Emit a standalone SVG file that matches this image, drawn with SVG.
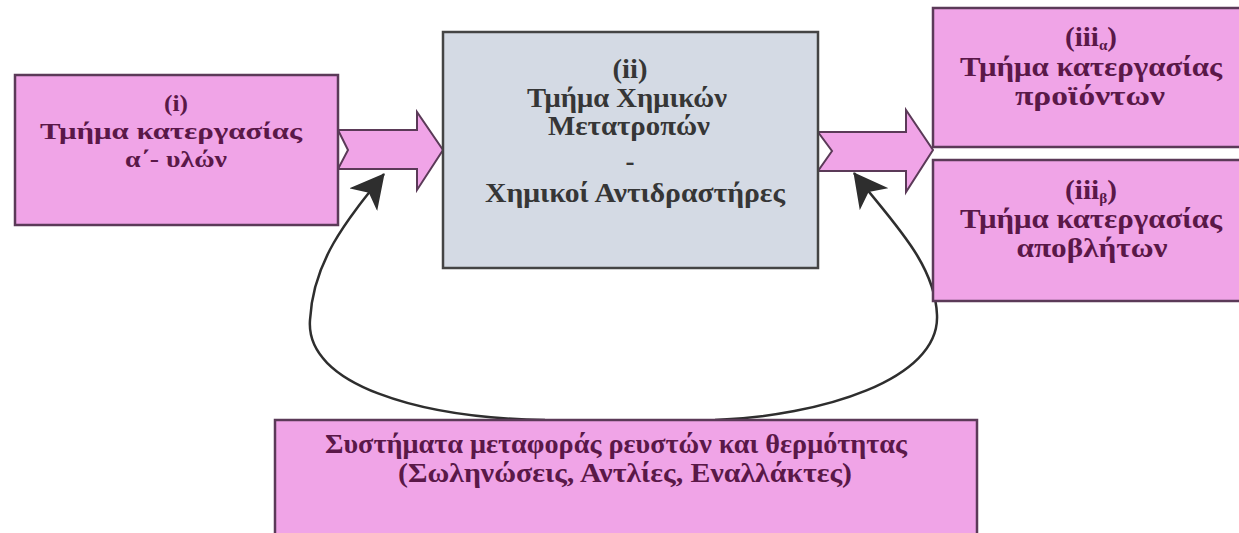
<svg xmlns="http://www.w3.org/2000/svg" width="1239" height="533" viewBox="0 0 1239 533">
<defs>
<style>
.pink{fill:#F0A4E7;stroke:#5B3A58;stroke-width:2.5}
.grey{fill:#D4DAE4;stroke:#444;stroke-width:2.5}
.arr{fill:#F0A4E7;stroke:#5B3A58;stroke-width:2}
.t{font-family:"Liberation Serif","DejaVu Serif",serif;font-weight:bold;font-size:27px;text-anchor:middle;fill:#5A1848}
.s{font-size:24px}
.tg{font-family:"Liberation Serif","DejaVu Serif",serif;font-weight:bold;font-size:27px;text-anchor:middle;fill:#363636}
.sub{font-size:14px}
.curve{fill:none;stroke:#2E2E2E;stroke-width:2.5}
</style>
<marker id="head" markerUnits="userSpaceOnUse" markerWidth="34" markerHeight="36" viewBox="0 0 34 36" refX="33" refY="18" orient="auto">
<path d="M0,0 L34,18 L0,36 L9,18 z" fill="#2E2E2E"/>
</marker>
</defs>
<rect width="1239" height="533" fill="#FFFFFF"/>
<g id="connectors">
<polygon class="arr" points="338,130 417,130 417,112 443,150 417,190 417,169 338,169 348,150"/>
<polygon class="arr" points="818,132 906,132 906,110 933,150 906,192 906,171 818,171 832,151"/>
<path class="curve" d="M545,420 C420,418 305,385 310,320 C313,262 345,222 384,174" marker-end="url(#head)"/>
<path class="curve" d="M715,420 C820,416 940,380 937,315 C935,262 890,220 854,173" marker-end="url(#head)"/>
</g>
<g id="node-i">
<rect class="pink" x="15" y="75" width="323" height="150"/>
<text class="t s" x="176" y="111" textLength="24" lengthAdjust="spacingAndGlyphs">(i)</text>
<text class="t s" x="171" y="139" textLength="262" lengthAdjust="spacingAndGlyphs">Τμήμα κατεργασίας</text>
<text class="t s" x="176" y="167" textLength="102" lengthAdjust="spacingAndGlyphs">α΄- υλών</text>
</g>
<g id="node-ii">
<rect class="grey" x="443" y="32" width="375" height="236"/>
<text class="tg" x="630" y="78" textLength="35" lengthAdjust="spacingAndGlyphs">(ii)</text>
<text class="tg" x="627" y="107" textLength="200" lengthAdjust="spacingAndGlyphs">Τμήμα Χημικών</text>
<text class="tg" x="629" y="135" textLength="162" lengthAdjust="spacingAndGlyphs">Μετατροπών</text>
<text class="tg" x="630" y="170">-</text>
<text class="tg" x="635" y="202" textLength="300" lengthAdjust="spacingAndGlyphs">Χημικοί Αντιδραστήρες</text>
</g>
<g id="node-iiia">
<rect class="pink" x="933" y="8" width="320" height="139"/>
<text class="t" x="1091" y="46" textLength="52" lengthAdjust="spacingAndGlyphs">(iii<tspan class="sub" dy="4">α</tspan><tspan dy="-4">)</tspan></text>
<text class="t" x="1091" y="76" textLength="262" lengthAdjust="spacingAndGlyphs">Τμήμα κατεργασίας</text>
<text class="t" x="1090" y="105" textLength="150" lengthAdjust="spacingAndGlyphs">προϊόντων</text>
</g>
<g id="node-iiib">
<rect class="pink" x="933" y="160" width="320" height="141"/>
<text class="t" x="1091" y="199" textLength="52" lengthAdjust="spacingAndGlyphs">(iii<tspan class="sub" dy="4">β</tspan><tspan dy="-4">)</tspan></text>
<text class="t" x="1091" y="228" textLength="262" lengthAdjust="spacingAndGlyphs">Τμήμα κατεργασίας</text>
<text class="t" x="1092" y="257" textLength="151" lengthAdjust="spacingAndGlyphs">αποβλήτων</text>
</g>
<g id="node-bottom">
<rect class="pink" x="275" y="420" width="702" height="125"/>
<text class="t" x="616" y="453" textLength="582" lengthAdjust="spacingAndGlyphs">Συστήματα μεταφοράς ρευστών και θερμότητας</text>
<text class="t" x="625" y="482" textLength="454" lengthAdjust="spacingAndGlyphs">(Σωληνώσεις, Αντλίες, Εναλλάκτες)</text>
</g>
</svg>
